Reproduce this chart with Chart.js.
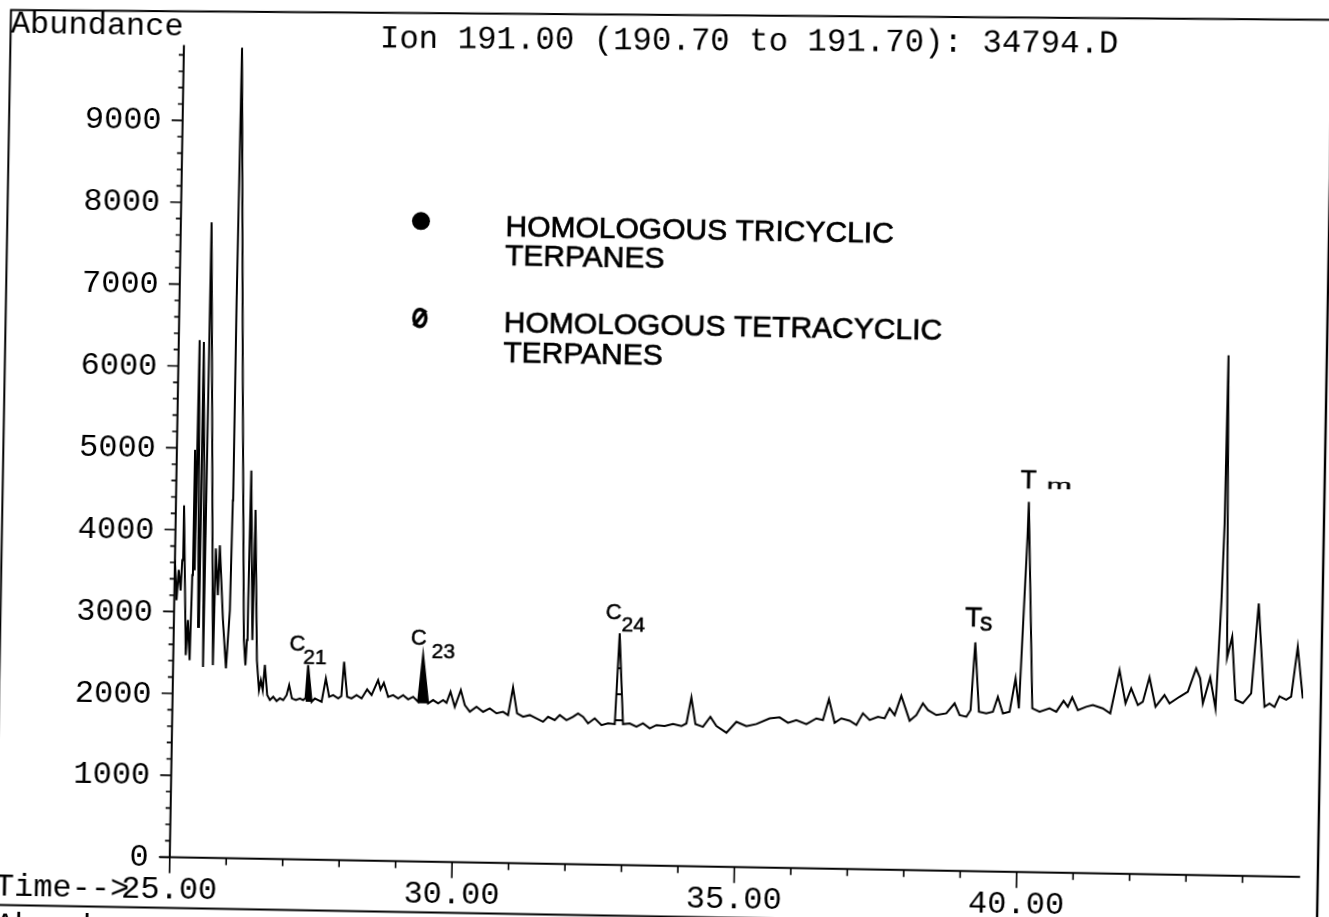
<!DOCTYPE html>
<html>
<head>
<meta charset="utf-8">
<title>Ion 191.00 chromatogram</title>
<script src="https://cdn.jsdelivr.net/npm/chart.js@4.4.1/dist/chart.umd.min.js"></script>
<style>
  html, body { margin: 0; padding: 0; background: #fff; overflow: hidden; width: 1329px; height: 917px; }
  #sheet { position: absolute; left: -20px; top: -20px; width: 1369px; height: 957px;
           transform: rotate(1deg); transform-origin: 684.5px 478.5px; background: #fff; }
  canvas { display: block; }
</style>
</head>
<body>
<div id="sheet"><canvas id="tic" width="1369" height="957"></canvas></div>
<script>
// Retention time (min) and abundance of the m/z 191 trace
const traceTime = [
  25.000,25.040,25.070,25.110,25.130,25.145,25.220,25.248,25.290,25.312,
  25.322,25.352,25.370,25.430,25.445,25.488,25.530,25.545,25.704,25.721,
  25.771,25.791,25.868,25.936,25.988,26.007,26.012,26.030,26.153,26.245,
  26.280,26.299,26.310,26.325,26.395,26.412,26.482,26.527,26.559,26.594,
  26.625,26.675,26.724,26.782,26.843,26.901,26.960,27.018,27.061,27.113,
  27.184,27.255,27.313,27.355,27.391,27.463,27.520,27.579,27.640,27.709,
  27.773,27.843,27.932,27.988,28.027,28.091,28.169,28.257,28.347,28.443,
  28.523,28.635,28.680,28.737,28.817,28.905,28.994,29.082,29.172,29.259,
  29.349,29.424,29.527,29.614,29.704,29.791,29.852,29.920,30.000,30.102,
  30.177,30.268,30.385,30.503,30.620,30.741,30.857,30.946,31.026,31.105,
  31.212,31.331,31.450,31.568,31.655,31.774,31.862,31.982,32.097,32.185,
  32.275,32.365,32.482,32.603,32.719,32.838,32.898,32.984,33.103,33.223,
  33.338,33.459,33.576,33.723,33.870,34.019,34.107,34.187,34.266,34.401,
  34.529,34.638,34.818,34.991,35.169,35.346,35.579,35.756,35.905,36.052,
  36.231,36.406,36.523,36.623,36.731,36.848,36.996,37.116,37.229,37.350,
  37.496,37.615,37.700,37.791,37.903,38.058,38.175,38.288,38.379,38.529,
  38.705,38.849,38.941,39.061,39.134,39.197,39.282,39.413,39.530,39.613,
  39.707,39.825,39.921,39.988,40.089,40.102,40.226,40.356,40.532,40.652,
  40.778,40.855,40.930,41.033,41.181,41.297,41.475,41.608,41.759,41.875,
  41.972,42.094,42.181,42.292,42.407,42.563,42.654,42.829,42.975,43.116,
  43.190,43.244,43.367,43.470,43.543,43.575,43.592,43.659,43.744,43.821,
  43.952,44.097,44.204,44.337,44.424,44.514,44.599,44.719,44.806,44.908,
  45.012
];
const traceAbundance = [
  3630,3140,3510,3260,3630,4300,2470,2900,2410,3450,
  4980,3510,6320,2820,6300,4820,2330,7760,2355,3780,
  3210,3820,2910,2320,3030,4370,6815,9900,5600,2670,
  2360,2670,3160,4740,2670,4260,2425,2060,2180,2060,
  2370,2000,1940,1981,1929,1963,1943,2004,2127,1965,
  1945,1967,1947,1972,2375,1928,1970,1950,1930,2217,
  1993,2014,1975,2004,2423,1997,1978,2019,1980,2091,
  2023,2207,2094,2175,2005,2027,1988,2029,1978,2011,
  1951,2522,1933,1975,1935,1977,1945,2080,1897,2103,
  1920,1840,1902,1842,1885,1826,1847,1808,2147,1830,
  1790,1812,1773,1733,1795,1756,1819,1759,1801,1843,
  1803,1723,1786,1705,1728,1720,2829,1722,1732,1692,
  1735,1675,1717,1707,1733,1710,1744,2063,1738,1706,
  1830,1718,1638,1774,1724,1751,1823,1837,1773,1808,
  1761,1833,1814,2071,1783,1838,1811,1760,1904,1824,
  1866,1848,1971,1890,2127,1824,1895,2039,1958,1899,
  1922,2046,1904,1885,1967,2795,1948,1930,1951,2135,
  1934,1955,2364,1998,4091,4522,2001,1961,2005,1965,
  2100,2028,2144,1990,2032,2054,2016,1957,2487,2082,
  2266,2064,2105,2405,2047,2192,2091,2174,2237,2524,
  2403,2098,2417,2040,3360,4300,6355,2660,2920,2150,
  2110,2230,3330,2070,2110,2070,2200,2160,2200,2810,
  2180
];

// Axis ranges and tick labels
const timeRange = [25, 45.02];
const abundanceRange = [0, 9920];
const yTickValues = [0, 1000, 2000, 3000, 4000, 5000, 6000, 7000, 8000, 9000];
const yTickLabels = ['0', '1000', '2000', '3000', '4000', '5000', '6000', '7000', '8000', '9000'];
const xTickValues = [25, 30, 35, 40];
const xTickLabels = ['25.00', '30.00', '35.00', '40.00'];
const yMinorStep = 200;
const xMinorStep = 1;
const xLastMinor = 44;

// Marked homologues: shaded peak windows (min)
const tricyclicStart = [27.35, 29.34];
const tricyclicEnd = [27.47, 29.53];
const tetracyclicStart = [32.83];
const tetracyclicEnd = [32.99];

// Peak annotations
const peakTimes = [27.391, 29.424, 32.898, 39.197, 40.102];
const peakMain = ['C', 'C', 'C', 'T', 'T'];
const peakSub = ['21', '23', '24', 's', 'm'];

const legendLines = [
  ['HOMOLOGOUS TRICYCLIC', 'TERPANES'],
  ['HOMOLOGOUS TETRACYCLIC', 'TERPANES']
];
const titleText = 'Ion 191.00 (190.70 to 191.70): 34794.D';
const yTitle = 'Abundance';
const xPrefix = 'Time-->';

const points = traceTime.map((t, i) => ({ x: t, y: traceAbundance[i] }));
function windowPoints(t0, t1) { return points.filter(p => p.x >= t0 && p.x <= t1); }
function floorOf(pts) { return Math.min(...pts.map(p => p.y)); }

// Hatch used for the tetracyclic peak
function hatchPattern() {
  const c = document.createElement('canvas');
  c.width = 6; c.height = 26;
  const g = c.getContext('2d');
  g.fillStyle = '#fff'; g.fillRect(0, 0, 6, 26);
  g.fillStyle = '#000'; g.fillRect(0, 12, 6, 2);
  return g.createPattern(c, 'repeat');
}

const datasets = [{
  data: points, borderColor: '#000', borderWidth: 2, pointRadius: 0,
  tension: 0, fill: false, order: 0, borderJoinStyle: 'miter'
}];
tricyclicStart.forEach((t0, i) => {
  const pts = windowPoints(t0, tricyclicEnd[i]);
  datasets.push({ data: pts, borderWidth: 0, pointRadius: 0, tension: 0,
    backgroundColor: '#000', fill: { value: floorOf(pts) }, order: 1 });
});
tetracyclicStart.forEach((t0, i) => {
  const pts = windowPoints(t0, tetracyclicEnd[i]);
  datasets.push({ data: pts, borderWidth: 0, pointRadius: 0, tension: 0,
    backgroundColor: hatchPattern(), fill: { value: floorOf(pts) }, order: 1 });
});

const MONO = '32px "Liberation Mono", "Courier New", monospace';

const sheetDecor = {
  id: 'sheetDecor',
  afterDraw(chart) {
    const ctx = chart.ctx;
    const xs = chart.scales.x, ys = chart.scales.y;
    const a = chart.chartArea;
    ctx.save();
    ctx.strokeStyle = '#000';
    ctx.fillStyle = '#000';
    ctx.lineCap = 'butt';

    // page frame and panel divider
    ctx.lineWidth = 2;
    ctx.beginPath();
    ctx.moveTo(23.3, 957); ctx.lineTo(23.3, 41.5); ctx.lineTo(1369, 28.1);
    ctx.stroke();
    ctx.lineWidth = 2.4;
    ctx.beginPath();
    ctx.moveTo(1345, 28.3); ctx.lineTo(1345, 957);
    ctx.stroke();
    ctx.lineWidth = 2;
    ctx.beginPath();
    ctx.moveTo(0, 936.6); ctx.lineTo(1369, 936.6);
    ctx.stroke();

    // header texts
    ctx.font = MONO;
    ctx.textAlign = 'left';
    ctx.textBaseline = 'alphabetic';
    ctx.fillText(yTitle, 23.4, 64.4);
    ctx.save();
    ctx.translate(392.7, 72.6);
    ctx.rotate(-0.0105);
    ctx.font = '32.4px "Liberation Mono", "Courier New", monospace';
    ctx.fillText(titleText, 0, 0);
    ctx.restore();
    ctx.fillText(yTitle, 23.4, 965.5);

    // axes
    ctx.lineWidth = 2;
    ctx.beginPath();
    ctx.moveTo(a.left, a.bottom); ctx.lineTo(a.left, a.top);
    ctx.moveTo(a.left - 10, a.bottom); ctx.lineTo(a.right, a.bottom);
    ctx.stroke();

    // y ticks
    ctx.lineWidth = 1.6;
    ctx.beginPath();
    for (let v = abundanceRange[0]; v <= abundanceRange[1]; v += yMinorStep) {
      const y = ys.getPixelForValue(v);
      const len = (v % 1000 === 0) ? 11 : 5;
      ctx.moveTo(a.left - len, y); ctx.lineTo(a.left, y);
    }
    // x ticks
    for (let t = timeRange[0]; t <= xLastMinor; t += xMinorStep) {
      const x = xs.getPixelForValue(t);
      const len = (t % 5 === 0) ? 16 : 7;
      ctx.moveTo(x, a.bottom); ctx.lineTo(x, a.bottom + len);
    }
    ctx.stroke();

    // tick labels
    ctx.font = MONO;
    ctx.textAlign = 'right';
    yTickValues.forEach((v, i) => {
      ctx.fillText(yTickLabels[i], a.left - 21, ys.getPixelForValue(v) + 9.5);
    });
    ctx.textAlign = 'center';
    xTickValues.forEach((t, i) => {
      ctx.fillText(xTickLabels[i], xs.getPixelForValue(t), a.bottom + 41.3);
    });
    ctx.textAlign = 'left';
    ctx.fillText(xPrefix, 22.5, a.bottom + 41.3);

    // legend
    ctx.beginPath();
    ctx.arc(436.9, 245.3, 9, 0, Math.PI * 2);
    ctx.fill();
    ctx.lineWidth = 3.5;
    ctx.beginPath();
    ctx.ellipse(437.5, 342.3, 6, 8.5, 0, 0, Math.PI * 2);
    ctx.moveTo(431.5, 350); ctx.lineTo(443.5, 334.5);
    ctx.stroke();
    ctx.font = '30px "Liberation Sans", Arial, sans-serif';
    ctx.textAlign = 'left';
    ctx.lineWidth = 0.7;
    const rows = [[258.8, 287.5], [354.5, 384.5]];
    legendLines.forEach((lines, i) => {
      lines.forEach((txt, j) => {
        ctx.fillText(txt, 521.5, rows[i][j]);
        ctx.strokeText(txt, 521.5, rows[i][j]);
      });
    });

    // peak annotations
    const sans = f => f + 'px "Liberation Sans", Arial, sans-serif';
    const layout = [
      { mx: -19, my: -14, ms: 22, sx: -5, sy: -1, ss: 21 },
      { mx: -12.6, my: -10.7, ms: 22, sx: 8.4, sy: 2.7, ss: 21 },
      { mx: -14.3, my: -14, ms: 22, sx: 1.7, sy: -2.3, ss: 21 },
      { mx: -10.7, my: -15.6, ms: 28, sx: 4.3, sy: -12.3, ss: 25 },
      { mx: -8.6, my: -13.4, ms: 26, sx: 17.4, sy: -14, ss: 22, squash: true }
    ];
    ctx.lineWidth = 0.5;
    peakTimes.forEach((t, i) => {
      let best = 0, bd = Infinity;
      traceTime.forEach((tt, k) => { const d = Math.abs(tt - t); if (d < bd) { bd = d; best = k; } });
      const px = xs.getPixelForValue(traceTime[best]);
      const py = ys.getPixelForValue(traceAbundance[best]);
      const L = layout[i];
      ctx.font = sans(L.ms);
      ctx.fillText(peakMain[i], px + L.mx, py + L.my);
      ctx.strokeText(peakMain[i], px + L.mx, py + L.my);
      ctx.font = sans(L.ss);
      ctx.save();
      ctx.translate(px + L.sx, py + L.sy);
      if (L.squash) ctx.scale(1.37, 0.62);
      ctx.fillText(peakSub[i], 0, 0);
      ctx.strokeText(peakSub[i], 0, 0);
      ctx.restore();
    });
    ctx.restore();
  }
};

new Chart(document.getElementById('tic'), {
  type: 'line',
  data: { datasets },
  options: {
    responsive: false,
    devicePixelRatio: 1,
    animation: false,
    events: [],
    layout: { autoPadding: false, padding: { left: 196.8, top: 73.5, right: 41.7, bottom: 71.2 } },
    plugins: { legend: { display: false }, tooltip: { enabled: false }, title: { display: false } },
    scales: {
      x: {
        type: 'linear', min: timeRange[0], max: timeRange[1],
        grid: { display: false, drawTicks: false }, border: { display: false },
        ticks: { display: false },
        afterFit(s) { s.height = 0; }
      },
      y: {
        type: 'linear', min: abundanceRange[0], max: abundanceRange[1],
        grid: { display: false, drawTicks: false }, border: { display: false },
        ticks: { display: false },
        afterFit(s) { s.width = 0; }
      }
    }
  },
  plugins: [sheetDecor]
});
</script>
</body>
</html>
